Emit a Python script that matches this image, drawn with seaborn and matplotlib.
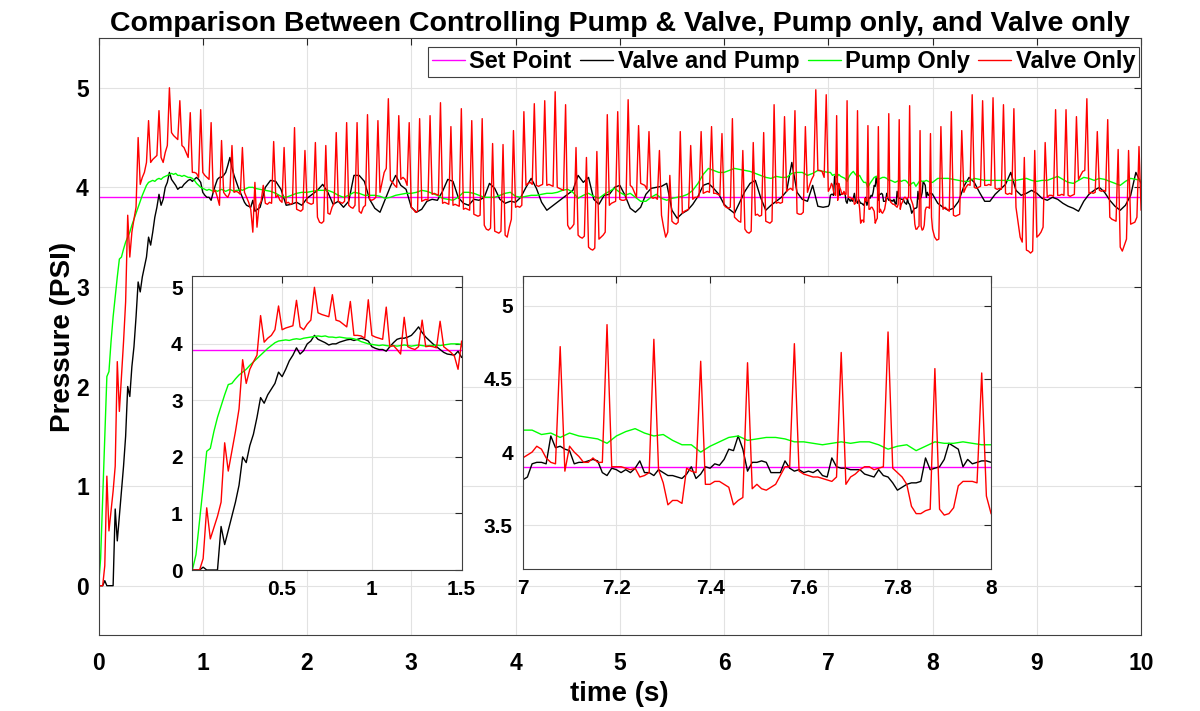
import numpy as np
import pandas as pd
import matplotlib
matplotlib.use("Agg")
import matplotlib.pyplot as plt
import seaborn as sns
from matplotlib.ticker import FormatStrFormatter

# --- data (pressure in PSI) ---
set_point = 3.9

# 0.00 .. 1.50 s, every 0.02 s (all series)
red_a = [0, 0, 0, 0.2, 1.1, 0.55, 0.75, 0.95, 1.2, 2.25,
         1.75, 2.1, 2.45, 2.85, 3.72, 3.3, 3.55, 3.68, 3.8, 4.5,
         4.03, 4.1, 4.15, 4.25, 4.67, 4.25, 4.28, 4.3, 4.32, 4.77,
         4.3, 4.25, 4.35, 4.42, 5.0, 4.55, 4.52, 4.5, 4.48, 4.87,
         4.42, 4.4, 4.35, 4.3, 4.75, 4.15, 4.15, 4.14, 4.1, 4.78,
         4.15, 4.12, 4.1, 4.08, 4.65, 3.95, 3.97, 3.9, 3.82, 4.47,
         3.95, 3.92, 3.9, 3.95, 4.42, 3.95, 3.96, 3.95, 3.93, 4.4,
         3.95, 3.9, 3.85, 3.78, 3.55, 4.05]
black_a = [0, 0, 0, 0.05, 0, 0, 0, 0, 0.77, 0.45,
           0.7, 0.95, 1.2, 1.5, 2.0, 1.9, 2.2, 2.4, 2.7, 3.05,
           2.95, 3.1, 3.2, 3.3, 3.5, 3.42, 3.55, 3.7, 3.8, 3.93,
           3.82, 3.88, 4.0, 4.05, 4.15, 4.08, 4.05, 4.02, 3.98, 4.0,
           4.0, 4.03, 4.05, 4.07, 4.08, 4.06, 4.08, 4.1, 4.08, 4.05,
           3.95, 3.92, 3.9, 3.9, 3.87, 3.95, 4.02, 4.08, 4.1, 4.1,
           4.12, 4.15, 4.22, 4.3, 4.2, 4.12, 4.06, 4.0, 3.95, 3.9,
           3.85, 3.82, 3.81, 3.8, 3.87, 3.76]
green_a = [0, 0.27, 0.87, 1.47, 2.1, 2.15, 2.45, 2.7, 2.9, 3.1,
           3.28, 3.3, 3.38, 3.45, 3.5, 3.55, 3.62, 3.68, 3.74, 3.8,
           3.86, 3.92, 3.97, 4.02, 4.05, 4.06, 4.07, 4.06, 4.08, 4.09,
           4.08, 4.1, 4.11, 4.12, 4.13, 4.14, 4.13, 4.14, 4.12, 4.12,
           4.11, 4.12, 4.11, 4.1, 4.1, 4.09, 4.07, 4.04, 4.02, 4.0,
           3.99, 3.98, 3.97, 3.98, 3.97, 3.96, 3.97, 3.96, 3.97, 3.98,
           3.97, 3.96, 3.97, 3.98, 3.97, 3.96, 3.97, 3.97, 3.98, 3.97,
           3.98, 3.99, 4.0, 4.0, 4.0, 3.99]

# valve only, 1.52 .. 6.98 s every 0.02 s (one row per 0.1 s valve cycle)
red_b = [3.60, 3.82, 3.86, 4.02,
         3.84, 3.83, 3.85, 3.84, 4.46,
         3.90, 3.92, 3.87, 3.85, 4.40,
         3.84, 3.85, 3.83, 3.84, 4.60,
         3.78, 3.77, 3.76, 3.78, 4.37,
         3.85, 3.84, 3.83, 3.84, 4.45,
         3.70, 3.65, 3.64, 3.66, 4.42,
         3.74, 3.73, 3.80, 3.84, 4.55,
         3.86, 3.85, 3.84, 3.86, 4.65,
         3.82, 3.80, 3.79, 3.82, 4.65,
         3.76, 3.74, 3.80, 3.82, 4.73,
         3.88, 3.87, 3.88, 3.90, 4.67,
         3.95, 4.05, 4.15, 4.19, 4.89,
         4.07, 4.05, 4.02, 4.00, 4.72,
         4.08, 4.10, 4.08, 4.02, 4.65,
         3.80, 3.78, 3.75, 3.76, 4.69,
         3.86, 3.87, 3.88, 3.87, 4.72,
         3.93, 3.94, 3.93, 3.92, 4.85,
         3.84, 3.85, 3.84, 3.83, 4.61,
         3.82, 3.83, 3.82, 3.81, 4.79,
         3.78, 3.79, 3.78, 3.77, 4.67,
         3.73, 3.72, 3.71, 3.72, 4.69,
         3.62, 3.58, 3.57, 3.59, 4.44,
         3.56, 3.55, 3.54, 3.56, 4.43,
         3.52, 3.50, 3.60, 3.68, 4.57,
         3.80, 3.81, 3.80, 3.82, 4.76,
         4.02, 4.04, 4.05, 4.03, 4.84,
         4.02, 4.01, 4.02, 4.03, 4.87,
         4.02, 4.03, 4.02, 4.01, 4.96,
         4.00, 3.99, 3.98, 3.97, 4.83,
         3.62, 3.58, 3.60, 3.63, 4.40,
         3.52, 3.50, 3.49, 3.51, 4.30,
         3.40, 3.38, 3.37, 3.39, 4.36,
         3.48, 3.50, 3.52, 3.55, 4.73,
         3.82, 3.84, 3.85, 3.86, 4.76,
         3.88, 3.87, 3.87, 3.88, 4.88,
         4.02, 4.00, 3.95, 3.90, 4.62,
         4.04, 4.03, 4.02, 3.98, 4.56,
         3.90, 3.89, 3.90, 3.88, 4.37,
         3.72, 3.60, 3.50, 3.55, 4.12,
         3.66, 3.64, 3.63, 3.65, 4.56,
         3.74, 3.76, 3.77, 3.78, 4.42,
         3.88, 3.90, 3.90, 3.91, 4.56,
         3.94, 3.95, 3.96, 3.95, 4.61,
         3.94, 3.94, 3.93, 3.92, 4.54,
         3.82, 3.80, 3.79, 3.80, 4.69,
         3.70, 3.68, 3.66, 3.65, 4.37,
         3.58, 3.55, 3.54, 3.56, 4.45,
         3.72, 3.73, 3.71, 3.72, 4.55,
         3.66, 3.65, 3.64, 3.66, 4.83,
         3.84, 3.85, 3.84, 3.85, 4.71,
         3.96, 3.98, 3.99, 3.97, 4.77,
         3.74, 3.73, 3.73, 3.75, 4.61,
         3.95, 4.02, 4.08, 4.12, 4.98,
         4.17, 4.17, 4.16, 4.10, 4.93]

# 1.55 .. 6.95 s every 0.05 s
black_b = [3.80, 4.00, 4.07, 4.06, 3.98, 3.82, 3.83, 3.85, 3.82, 3.89,
           3.93, 3.97, 4.03, 3.95, 3.83, 3.86, 3.80, 3.86, 4.12, 4.12,
           4.06, 3.88, 3.79, 3.75, 3.88, 4.01, 4.12, 4.02, 3.98, 3.80,
           3.75, 3.78, 3.86, 3.88, 3.87, 3.96, 4.08, 4.06, 3.90, 3.84,
           3.82, 3.88, 3.87, 3.90, 4.04, 3.99, 3.88, 3.84, 3.86, 3.85,
           3.90, 4.00, 4.09, 3.99, 3.85, 3.77, 3.81, 3.85, 3.89, 3.93,
           3.97, 4.12, 4.05, 4.10, 3.88, 3.83, 3.92, 3.93, 4.00, 4.02,
           3.92, 3.79, 3.75, 3.80, 3.93, 3.99, 4.00, 4.01, 4.04, 3.77,
           3.69, 3.74, 3.77, 3.83, 3.91, 4.02, 4.04, 3.99, 3.93, 3.83,
           3.78, 3.74, 3.85, 3.96, 4.04, 4.07, 3.90, 3.77, 3.82, 3.86,
           3.90, 3.96, 4.25, 3.95, 3.88, 3.86, 4.02, 3.81, 3.80]
green_b = [3.98, 3.97, 3.96, 3.94, 3.91, 3.90, 3.92, 3.94, 3.95, 3.95,
           3.96, 3.97, 3.97, 3.97, 3.95, 3.92, 3.90, 3.92, 3.95, 3.94,
           3.92, 3.92, 3.92, 3.91, 3.89, 3.90, 3.92, 3.93, 3.94, 3.94,
           3.95, 3.97, 3.96, 3.94, 3.92, 3.89, 3.88, 3.87, 3.90, 3.95,
           3.95, 3.94, 3.92, 3.90, 3.90, 3.90, 3.92, 3.94, 3.95, 3.91,
           3.90, 3.91, 3.92, 3.92, 3.93, 3.94, 3.94, 3.95, 3.97, 3.98,
           3.95, 3.89, 3.92, 3.94, 3.91, 3.89, 3.93, 3.96, 3.99, 3.95,
           3.92, 3.94, 3.90, 3.86, 3.86, 3.90, 3.93, 3.89, 3.87, 3.89,
           3.90, 3.91, 3.93, 3.97, 4.04, 4.13, 4.19, 4.17, 4.15, 4.15,
           4.17, 4.19, 4.18, 4.17, 4.16, 4.14, 4.12, 4.10, 4.09, 4.11,
           4.10, 4.10, 4.14, 4.15, 4.15, 4.12, 4.14, 4.17, 4.16]

# 7.00 .. 8.00 s every 0.01 s (zoomed window)
red_c = [3.96, 3.98, 4.00, 4.04, 4.02, 3.96, 3.93, 3.92, 4.72, 3.87,
         4.04, 4.00, 3.97, 3.93, 3.93, 3.96, 3.93, 3.93, 4.87, 3.90,
         3.90, 3.90, 3.89, 3.88, 3.89, 3.83, 3.84, 3.86, 4.77, 3.88,
         3.79, 3.64, 3.67, 3.67, 3.65, 3.89, 3.87, 3.86, 4.62, 3.78,
         3.78, 3.80, 3.80, 3.78, 3.76, 3.64, 3.67, 3.69, 4.61, 3.75,
         3.78, 3.75, 3.74, 3.76, 3.78, 3.84, 3.90, 3.90, 4.74, 3.87,
         3.85, 3.84, 3.83, 3.83, 3.82, 3.81, 3.80, 3.83, 4.68, 3.78,
         3.83, 3.85, 3.88, 3.90, 3.90, 3.88, 3.89, 3.90, 4.82, 3.89,
         3.86, 3.83, 3.78, 3.63, 3.58, 3.58, 3.60, 3.61, 4.57, 3.61,
         3.57, 3.58, 3.62, 3.77, 3.80, 3.80, 3.80, 3.79, 4.54, 3.70,
         3.58]
black_c = [3.81, 3.83, 3.92, 3.93, 3.93, 3.92, 4.11, 4.03, 4.04, 4.02,
           4.01, 3.92, 3.93, 3.93, 3.94, 3.95, 3.94, 3.86, 3.84, 3.89,
           3.88, 3.86, 3.88, 3.86, 3.89, 3.94, 3.86, 3.86, 3.84, 3.88,
           3.86, 3.84, 3.84, 3.83, 3.82, 3.85, 3.90, 3.82, 3.85, 3.90,
           3.89, 3.92, 3.91, 3.95, 4.02, 4.01, 4.11, 4.02, 3.87, 3.93,
           3.93, 3.94, 3.93, 3.86, 3.86, 3.86, 3.94, 3.89, 3.87, 3.88,
           3.86, 3.87, 3.86, 3.88, 3.84, 3.83, 3.96, 3.90, 3.89, 3.89,
           3.88, 3.88, 3.88, 3.85, 3.84, 3.83, 3.88, 3.84, 3.83, 3.79,
           3.74, 3.76, 3.78, 3.79, 3.79, 3.80, 3.96, 3.88, 3.89, 3.90,
           3.95, 4.06, 4.04, 4.02, 3.90, 3.95, 3.92, 3.93, 3.94, 3.94,
           3.93]
# 7.00 .. 8.00 s every 0.02 s
green_c = [4.15, 4.15, 4.12, 4.13, 4.10, 4.13, 4.11, 4.10, 4.09, 4.06,
           4.11, 4.14, 4.16, 4.13, 4.11, 4.12, 4.08, 4.05, 4.05, 4.00,
           4.04, 4.07, 4.10, 4.11, 4.08, 4.09, 4.10, 4.10, 4.09, 4.07,
           4.07, 4.06, 4.05, 4.06, 4.07, 4.06, 4.07, 4.07, 4.05, 4.02,
           4.04, 4.05, 4.01, 4.04, 4.07, 4.06, 4.06, 4.07, 4.06, 4.05,
           4.05]

# valve only, 8.02 .. 10.00 s every 0.02 s
red_d = [3.50, 3.47, 3.48, 4.61,
         3.78, 3.80, 3.78, 3.76, 4.76,
         3.72, 3.71, 3.72, 3.73, 4.57,
         3.95, 4.00, 4.03, 4.02, 4.93,
         4.00, 3.99, 4.00, 4.01, 4.87,
         4.02, 4.02, 4.03, 4.02, 4.90,
         3.99, 3.98, 3.99, 3.98, 4.83,
         3.94, 3.93, 3.94, 3.93, 4.79,
         3.80, 3.65, 3.50, 3.45, 4.30,
         3.37, 3.36, 3.34, 3.36, 4.37,
         3.50, 3.52, 3.55, 3.60, 4.45,
         3.90, 3.92, 3.92, 3.91, 4.78,
         3.92, 3.92, 3.93, 3.92, 4.78,
         3.92, 3.91, 3.92, 3.93, 4.71,
         4.08, 4.12, 4.16, 4.17, 4.89,
         3.94, 3.95, 3.94, 3.95, 4.56,
         3.97, 3.96, 3.97, 3.96, 4.68,
         3.70, 3.68, 3.67, 3.66, 4.38,
         3.40, 3.36, 3.42, 3.48, 4.37,
         3.63, 3.64, 3.65, 3.70, 4.41,
         3.77]
# 8.05 .. 10.00 s every 0.05 s
black_d = [3.84, 3.80, 3.77, 3.79, 3.86, 4.01, 4.10, 4.05, 3.95, 3.86,
           3.86, 3.93, 3.98, 4.03, 4.15, 3.97, 3.92, 3.94, 3.97, 3.94,
           3.89, 3.87, 3.90, 3.88, 3.84, 3.81, 3.79, 3.76, 3.86, 3.93,
           3.97, 4.00, 3.95, 3.87, 3.81, 3.77, 3.82, 3.92, 4.15, 4.04]
green_d = [4.09, 4.09, 4.09, 4.08, 4.07, 4.06, 4.06, 4.09, 4.08, 4.07,
           4.07, 4.07, 4.07, 4.07, 4.07, 4.07, 4.08, 4.09, 4.07, 4.06,
           4.07, 4.07, 4.09, 4.11, 4.08, 4.05, 4.04, 4.07, 4.10, 4.09,
           4.07, 4.09, 4.08, 4.06, 4.04, 4.02, 4.06, 4.09, 4.08, 4.07]

series_names = ["Set Point", "Valve and Pump", "Pump Only", "Valve Only"]
series_colors = ["#ff00ff", "#000000", "#00ff00", "#ff0000"]
main_xticks = list(range(0, 11))
main_yticks = [0, 1, 2, 3, 4, 5]
inset1_xticks = [0.5, 1, 1.5]
inset1_yticks = [0, 1, 2, 3, 4, 5]
inset2_xticks = [7, 7.2, 7.4, 7.6, 7.8, 8]
inset2_yticks = [3.5, 4, 4.5, 5]


def sampled(pieces):
    # pieces: (start time, step, values) -> one time / value pair
    t = np.concatenate([start + step * np.arange(len(v)) for start, step, v in pieces])
    y = np.concatenate([np.asarray(v, dtype=float) for _, _, v in pieces])
    return t, y


curves = {
    "Set Point": (np.array([0.0, 10.0]), np.array([set_point, set_point])),
    "Valve and Pump": sampled([(0.0, 0.02, black_a), (1.55, 0.05, black_b),
                               (7.0, 0.01, black_c), (8.05, 0.05, black_d)]),
    "Pump Only": sampled([(0.0, 0.02, green_a), (1.55, 0.05, green_b),
                          (7.0, 0.02, green_c), (8.05, 0.05, green_d)]),
    "Valve Only": sampled([(0.0, 0.02, red_a), (1.52, 0.02, red_b),
                           (7.0, 0.01, red_c), (8.02, 0.02, red_d)]),
}

df = pd.concat(
    [pd.DataFrame({"time": t, "pressure": y, "series": name})
     for name, (t, y) in curves.items()],
    ignore_index=True,
)

sns.set_style("white")
plt.rcParams["font.family"] = ["Liberation Sans", "DejaVu Sans"]
plt.rcParams["font.weight"] = "bold"
plt.rcParams["axes.labelweight"] = "bold"
plt.rcParams["axes.titleweight"] = "bold"
plt.rcParams["text.color"] = "black"
plt.rcParams["axes.labelcolor"] = "black"

palette = dict(zip(series_names, series_colors))


def draw(ax, legend):
    sns.lineplot(data=df, x="time", y="pressure", hue="series",
                 hue_order=series_names, palette=palette, estimator=None,
                 sort=False, linewidth=1.0, ax=ax, legend=legend)


def style(ax, size, xpad):
    ax.set_facecolor("white")
    ax.grid(True, color="#e2e2e2", linewidth=0.8)
    ax.set_axisbelow(True)
    ax.tick_params(direction="in", top=True, right=True, length=5,
                   width=0.8, color="#262626", labelcolor="black",
                   labelsize=size, pad=7)
    ax.tick_params(axis="x", pad=xpad)
    for s in ax.spines.values():
        s.set_visible(True)
        s.set_color("#404040")
        s.set_linewidth(0.8)
    ax.xaxis.set_major_formatter(FormatStrFormatter("%g"))
    ax.yaxis.set_major_formatter(FormatStrFormatter("%g"))


fig = plt.figure(figsize=(12, 7.11), dpi=100)

ax = fig.add_axes([0.0821, 0.1062, 0.8688, 0.8404])
draw(ax, True)
style(ax, 16.5, 12)
ax.set_xlim(0, 10)
ax.set_ylim(-0.5, 5.5)
ax.set_xticks(main_xticks)
ax.set_yticks(main_yticks)
ax.set_xlabel("time (s)", fontsize=20, labelpad=4)
ax.set_ylabel("Pressure (PSI)", fontsize=20, labelpad=0)
ax.set_title("Comparison Between Controlling Pump & Valve, Pump only, and Valve only",
             fontsize=20.5, pad=5)

old = ax.get_legend()
handles = old.legend_handles
labels = [t.get_text() for t in old.get_texts()]
leg = ax.legend(handles, labels, ncol=4, loc="upper right",
                bbox_to_anchor=(1139 / 1200, 664 / 711), bbox_transform=fig.transFigure,
                fancybox=False, framealpha=1, edgecolor="#404040", fontsize=17,
                handlelength=1.4, handletextpad=0.2, columnspacing=0.35,
                borderpad=0.14, borderaxespad=0)
leg.get_frame().set_linewidth(0.8)

ins1 = fig.add_axes([0.1603, 0.1983, 0.2244, 0.4135])
draw(ins1, False)
style(ins1, 15, 7)
ins1.set_xlim(0, 1.5)
ins1.set_ylim(0, 5.2)
ins1.set_xticks(inset1_xticks)
ins1.set_yticks(inset1_yticks)
ins1.set_xlabel("")
ins1.set_ylabel("")

ins2 = fig.add_axes([0.4356, 0.1993, 0.3903, 0.4121])
draw(ins2, False)
style(ins2, 15, 7)
ins2.set_xlim(7, 8)
ins2.set_ylim(3.2, 5.2)
ins2.set_xticks(inset2_xticks)
ins2.set_yticks(inset2_yticks)
ins2.set_xlabel("")
ins2.set_ylabel("")

fig.savefig("out.png", dpi=100, facecolor="white")
